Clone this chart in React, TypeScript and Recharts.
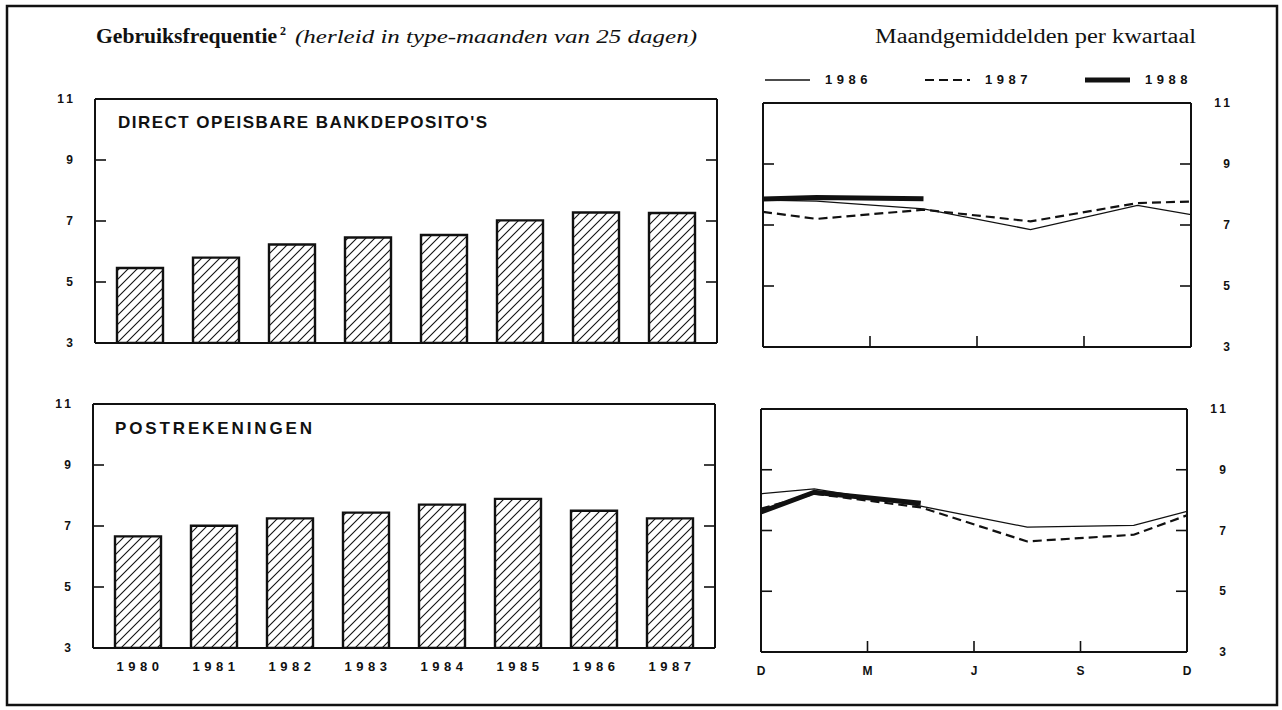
import React from "react";
import { Bar, BarChart, Legend, Line, LineChart, XAxis, YAxis } from "recharts";

// yearly averages (left panels)
const years = ["1980", "1981", "1982", "1983", "1984", "1985", "1986", "1987"];
const bankDeposits = [5.46, 5.8, 6.23, 6.46, 6.54, 7.02, 7.28, 7.26];
const postAccounts = [6.66, 7.01, 7.25, 7.44, 7.7, 7.89, 7.5, 7.25];

const valueTicks = [3, 5, 7, 9, 11];

// quarterly monthly averages (right panels), x in quarters from December
const quarterPos = [0, 0.5, 1.5, 2.5, 3.5, 4];
const quarterTicks = [0, 1, 2, 3, 4];
const quarterLabels = ["D", "M", "J", "S", "D"];
const seriesYears = ["1986", "1987", "1988"];

const bank1986 = [7.82, 7.78, 7.53, 6.85, 7.64, 7.34];
const bank1987 = [7.43, 7.2, 7.5, 7.12, 7.72, 7.77];
const bank1988 = [7.85, 7.9, 7.86, null, null, null];

const post1986 = [8.21, 8.37, 7.8, 7.11, 7.17, 7.63];
const post1987 = [7.72, 8.21, 7.76, 6.64, 6.86, 7.5];
const post1988 = [7.61, 8.26, 7.9, null, null, null];

const INK = "#111";
const SANS = "'Liberation Sans', Arial, sans-serif";
const SERIF = "'Liberation Serif', 'DejaVu Serif', serif";

const lineStyle: Record<string, { strokeWidth: number; strokeDasharray?: string }> = {
  "1986": { strokeWidth: 1.3 },
  "1987": { strokeWidth: 2.2, strokeDasharray: "9 5" },
  "1988": { strokeWidth: 5 },
};

const barRows = (values: number[]) =>
  years.map((year, i) => ({ year, value: values[i] }));

const lineRows = (a: (number | null)[], b: (number | null)[], c: (number | null)[]) =>
  quarterPos.map((x, i) => ({ x, "1986": a[i], "1987": b[i], "1988": c[i] }));

const axisLine = { stroke: INK, strokeWidth: 2 };
const innerTick = { stroke: INK, strokeWidth: 1.6 };

// renders nothing, but keeps the tick lines alive (tick={false} drops them)
const NoLabel = () => <g />;

const LeftLabelTick = ({ x, y, payload }: any) => (
  <text x={x + 3} y={y + 4} textAnchor="end" fontFamily={SANS} fontWeight={700} fontSize={12} letterSpacing={3} fill={INK}>
    {payload.value}
  </text>
);

const RightLabelTick = ({ x, y, payload }: any) => (
  <text x={x + 42} y={y + 4} textAnchor="end" fontFamily={SANS} fontWeight={700} fontSize={12} letterSpacing={3} fill={INK}>
    {payload.value}
  </text>
);

const YearTick = ({ x, y, payload }: any) => (
  <text x={x + 2} y={y + 23} textAnchor="middle" fontFamily={SANS} fontWeight={700} fontSize={13} letterSpacing={4.5} fill={INK}>
    {payload.value}
  </text>
);

const QuarterTick = ({ x, y, index }: any) => (
  <text x={x} y={y + 23} textAnchor="middle" fontFamily={SANS} fontWeight={700} fontSize={12} fill={INK}>
    {quarterLabels[index]}
  </text>
);

const QuarterLegend = () => (
  <svg width={440} height={16}>
    {seriesYears.map((yr, i) => (
      <g key={yr}>
        <line x1={i * 160} x2={i * 160 + 45} y1={8} y2={8} stroke={INK} {...lineStyle[yr]} />
        <text x={i * 160 + 60} y={12} fontFamily={SANS} fontWeight={700} fontSize={13} letterSpacing={4.5} fill={INK}>
          {yr}
        </text>
      </g>
    ))}
  </svg>
);

// frame sides without labels: mirrored axes with short ticks pointing into the plot
const frameY = (id: string, orientation: "left" | "right") => (
  <YAxis
    yAxisId={id}
    orientation={orientation}
    mirror
    domain={[3, 11]}
    allowDataOverflow
    ticks={valueTicks}
    interval={0}
    stroke={INK}
    axisLine={axisLine}
    tickLine={innerTick}
    tickSize={11}
    tick={NoLabel}
  />
);

function YearBars({ id, values, labels, width, height, margin }: any) {
  return (
    <BarChart width={width} height={height} data={barRows(values)} margin={margin}>
      <defs>
        <pattern id={id} patternUnits="userSpaceOnUse" width={9} height={9}>
          <path d="M0,9 L9,0 M-2,2 L2,-2 M7,11 L11,7" stroke={INK} strokeWidth={1.1} />
        </pattern>
      </defs>
      <XAxis
        dataKey="year"
        interval={0}
        padding={{ left: 7, right: 7 }}
        mirror={!labels}
        height={labels ? 32 : 30}
        stroke={INK}
        axisLine={axisLine}
        tickLine={false}
        tickSize={0}
        tickMargin={0}
        tick={labels ? YearTick : false}
      />
      <XAxis xAxisId="top" orientation="top" mirror dataKey="year" stroke={INK} axisLine={axisLine} tickLine={false} tick={false} />
      <YAxis
        domain={[3, 11]}
        allowDataOverflow
        ticks={valueTicks}
        interval={0}
        width={50}
        stroke={INK}
        axisLine={axisLine}
        tickLine={false}
        tickSize={0}
        tickMargin={22}
        tick={LeftLabelTick}
      />
      {frameY("li", "left")}
      {frameY("ri", "right")}
      <Bar dataKey="value" barSize={46} fill={`url(#${id})`} stroke={INK} strokeWidth={2.4} isAnimationActive={false} />
    </BarChart>
  );
}

function QuarterLines({ rows, labels, legend, width, height, margin }: any) {
  return (
    <LineChart width={width} height={height} data={rows} margin={margin}>
      {labels ? (
        <XAxis
          type="number"
          dataKey="x"
          domain={[0, 4]}
          allowDataOverflow
          ticks={quarterTicks}
          interval={0}
          height={28}
          stroke={INK}
          axisLine={axisLine}
          tickLine={false}
          tickSize={0}
          tickMargin={0}
          tick={QuarterTick}
        />
      ) : (
        <XAxis
          type="number"
          dataKey="x"
          domain={[0, 4]}
          allowDataOverflow
          ticks={quarterTicks}
          interval={0}
          mirror
          stroke={INK}
          axisLine={axisLine}
          tickLine={innerTick}
          tickSize={11}
          tick={NoLabel}
        />
      )}
      {labels && (
        <XAxis
          xAxisId="bi"
          type="number"
          dataKey="x"
          mirror
          domain={[0, 4]}
          allowDataOverflow
          ticks={quarterTicks}
          interval={0}
          stroke={INK}
          axisLine={false}
          tickLine={innerTick}
          tickSize={11}
          tick={NoLabel}
        />
      )}
      <XAxis xAxisId="top" orientation="top" mirror type="number" dataKey="x" domain={[0, 4]} allowDataOverflow stroke={INK} axisLine={axisLine} tickLine={false} tick={false} />
      <YAxis
        orientation="right"
        domain={[3, 11]}
        allowDataOverflow
        ticks={valueTicks}
        interval={0}
        width={50}
        stroke={INK}
        axisLine={false}
        tickLine={false}
        tickSize={0}
        tickMargin={0}
        tick={RightLabelTick}
      />
      {frameY("li", "left")}
      {frameY("ri", "right")}
      {legend && (
        <Legend
          layout="horizontal"
          verticalAlign="middle"
          align="center"
          wrapperStyle={{ top: 12, left: 25, width: 440, height: 16 }}
          content={<QuarterLegend />}
        />
      )}
      {seriesYears.map((yr) => (
        <Line
          key={yr}
          dataKey={yr}
          type="linear"
          stroke={INK}
          {...lineStyle[yr]}
          dot={false}
          activeDot={false}
          isAnimationActive={false}
        />
      ))}
    </LineChart>
  );
}

const place = (left: number, top: number): React.CSSProperties => ({ position: "absolute", left, top });

export default function App() {
  return (
    <div style={{ position: "absolute", left: 0, top: 0, width: 1282, height: 710, background: "#fff" }}>
      <svg width={1282} height={710} style={{ position: "absolute", left: 0, top: 0 }}>
        <rect x={7} y={6} width={1270} height={699} fill="none" stroke={INK} strokeWidth={2.5} />
        <text x={96} y={43} fontFamily={SERIF} fontWeight={700} fontSize={20} textLength={181} lengthAdjust="spacingAndGlyphs" fill={INK}>
          Gebruiksfrequentie
        </text>
        <text x={280} y={35} fontFamily={SERIF} fontWeight={700} fontSize={12} fill={INK}>
          2
        </text>
        <text x={295} y={43} fontFamily={SERIF} fontStyle="italic" fontSize={19} textLength={402} lengthAdjust="spacingAndGlyphs" fill={INK}>
          (herleid in type-maanden van 25 dagen)
        </text>
        <text x={875} y={43} fontFamily={SERIF} fontSize={20} textLength={321} lengthAdjust="spacingAndGlyphs" fill={INK}>
          Maandgemiddelden per kwartaal
        </text>
        <text x={118} y={128} fontFamily={SANS} fontWeight={700} fontSize={17} textLength={369} lengthAdjust="spacing" fill={INK}>
          DIRECT OPEISBARE BANKDEPOSITO'S
        </text>
        <text x={115} y={434} fontFamily={SANS} fontWeight={700} fontSize={17} textLength={197} lengthAdjust="spacing" fill={INK}>
          POSTREKENINGEN
        </text>
      </svg>
      <div style={place(20, 80)}>
        <YearBars id="hatchBank" values={bankDeposits} labels={false} width={720} height={280} margin={{ top: 19, right: 23, bottom: 17, left: 25 }} />
      </div>
      <div style={place(20, 380)}>
        <YearBars id="hatchPost" values={postAccounts} labels width={720} height={300} margin={{ top: 24, right: 25, bottom: 0, left: 23 }} />
      </div>
      <div style={place(740, 60)}>
        <QuarterLines rows={lineRows(bank1986, bank1987, bank1988)} legend labels={false} width={520} height={300} margin={{ top: 43, right: 19, bottom: 13, left: 23 }} />
      </div>
      <div style={place(740, 380)}>
        <QuarterLines rows={lineRows(post1986, post1987, post1988)} labels width={520} height={300} margin={{ top: 29, right: 23, bottom: 0, left: 21 }} />
      </div>
    </div>
  );
}
